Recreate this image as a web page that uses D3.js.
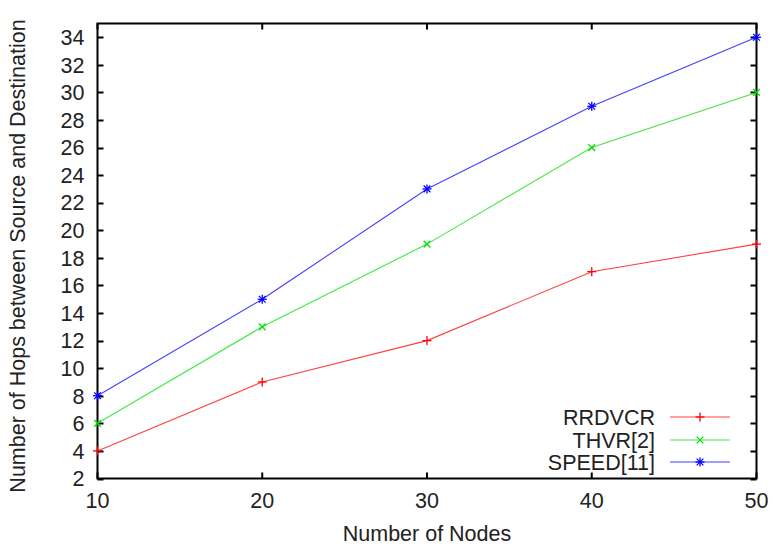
<!DOCTYPE html>
<html><head><meta charset="utf-8">
<script src="https://cdn.jsdelivr.net/npm/d3@7"></script>
<style>body{margin:0;background:#fff;} text{font-family:"Liberation Sans",Arial,sans-serif;}</style>
</head><body><svg id="c" width="773" height="547"></svg>
<script>
const nodes = [10, 20, 30, 40, 50];
const rrdvcr = [4, 9, 12, 17, 19];
const thvr = [6, 13, 19, 26, 30];
const speed = [8, 15, 23, 29, 34];
const seriesNames = ["RRDVCR", "THVR[2]", "SPEED[11]"];
const yTicks = [2,4,6,8,10,12,14,16,18,20,22,24,26,28,30,32,34];

const FS = 21.5;
const svg = d3.select("#c");
const L=97.5, R=756.5, T=23.5, B=478.5;
const x = d3.scaleLinear().domain([10,50]).range([L,R]);
const y = d3.scaleLinear().domain([2,35]).range([B,T]);
const colors = ["#ff0000","#00e000","#0000ff"];
const data = [rrdvcr, thvr, speed];

const g = svg.append("g");
yTicks.forEach(v=>{
  const yy = Math.round(y(v))+0.5;
  g.append("line").attr("x1",L).attr("x2",L+6).attr("y1",yy).attr("y2",yy).attr("stroke","#000").attr("stroke-width",2);
  g.append("line").attr("x1",R).attr("x2",R-6).attr("y1",yy).attr("y2",yy).attr("stroke","#000").attr("stroke-width",2);
  g.append("text").attr("x",L-13).attr("y",y(v)).attr("dy","0.36em").attr("text-anchor","end").attr("font-size",FS).attr("fill","#222").text(v);
});
nodes.forEach(v=>{
  g.append("line").attr("x1",x(v)).attr("x2",x(v)).attr("y1",B).attr("y2",B-6).attr("stroke","#000").attr("stroke-width",2);
  g.append("line").attr("x1",x(v)).attr("x2",x(v)).attr("y1",T).attr("y2",T+6).attr("stroke","#000").attr("stroke-width",2);
  g.append("text").attr("x",x(v)).attr("y",508).attr("text-anchor","middle").attr("font-size",FS).attr("fill","#222").text(v);
});
g.append("rect").attr("x",L).attr("y",T).attr("width",R-L).attr("height",B-T).attr("fill","none").attr("stroke","#000").attr("stroke-width",2);

function marker(sel, i, cx, cy, col){
  const s=4.5;
  if(i===0||i===2){
    sel.append("line").attr("x1",cx-s).attr("x2",cx+s).attr("y1",cy).attr("y2",cy).attr("stroke",col).attr("stroke-width",1.3);
    sel.append("line").attr("x1",cx).attr("x2",cx).attr("y1",cy-s).attr("y2",cy+s).attr("stroke",col).attr("stroke-width",1.3);
  }
  if(i===1||i===2){
    const d=s*0.75;
    sel.append("line").attr("x1",cx-d).attr("x2",cx+d).attr("y1",cy-d).attr("y2",cy+d).attr("stroke",col).attr("stroke-width",1.3);
    sel.append("line").attr("x1",cx-d).attr("x2",cx+d).attr("y1",cy+d).attr("y2",cy-d).attr("stroke",col).attr("stroke-width",1.3);
  }
}

const line = d3.line().x((d,i)=>x(nodes[i])).y(d=>y(d));
data.forEach((arr,i)=>{
  svg.append("path").attr("d",line(arr)).attr("fill","none").attr("stroke",colors[i]).attr("stroke-width",1.1).attr("opacity",0.75);
  arr.forEach((v,j)=>marker(svg,i,x(nodes[j]),y(v),colors[i]));
});

const ly=[417,440,462];
seriesNames.forEach((n,i)=>{
  svg.append("text").attr("x",655).attr("y",ly[i]).attr("dy","0.36em").attr("text-anchor","end").attr("font-size",FS).attr("fill","#222").text(n);
  svg.append("line").attr("x1",670).attr("x2",730).attr("y1",ly[i]).attr("y2",ly[i]).attr("stroke",colors[i]).attr("stroke-width",1.1).attr("opacity",0.75);
  marker(svg,i,700,ly[i],colors[i]);
});

svg.append("text").attr("x",427).attr("y",541).attr("text-anchor","middle").attr("font-size",FS).attr("fill","#222").text("Number of Nodes");
svg.append("text").attr("transform",`translate(25,256) rotate(-90)`).attr("text-anchor","middle").attr("font-size",FS).attr("fill","#222").text("Number of Hops between Source and Destination");
</script></body></html>
